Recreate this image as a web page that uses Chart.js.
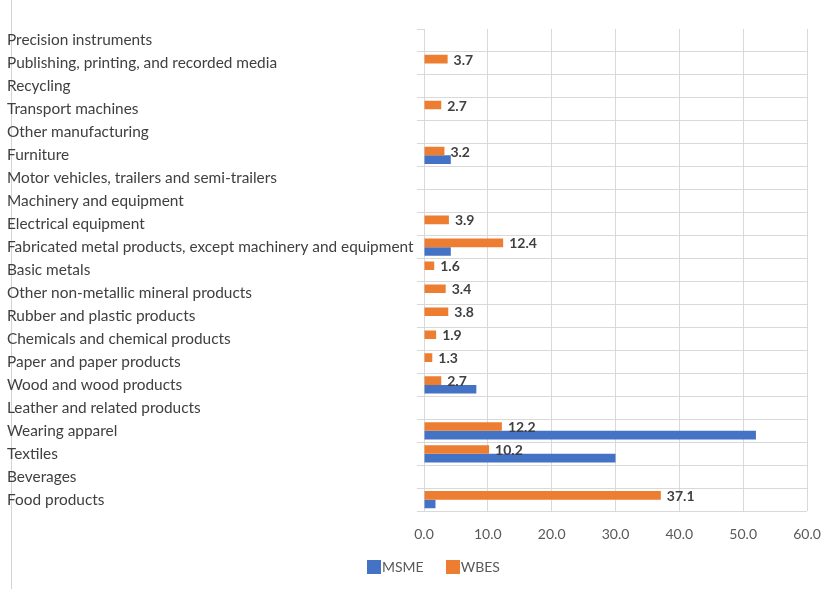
<!DOCTYPE html>
<html>
<head>
<meta charset="utf-8">
<script src="https://cdn.jsdelivr.net/npm/chart.js@4/dist/chart.umd.min.js"></script>
<style>
  html, body { margin: 0; padding: 0; background: #ffffff; }
  #wrap { position: relative; width: 831px; height: 589px; }
  #legend {
    position: absolute; left: 367px; top: 558px;
    display: flex; align-items: center;
    font-family: Lato, "Open Sans", sans-serif; font-size: 14px; color: #595959;
  }
  #legend .item { display: flex; align-items: center; margin-right: 22px; }
  #legend .swatch { width: 14px; height: 14px; margin-right: 1px; }
</style>
</head>
<body>
<div id="wrap">
  <canvas id="chart" width="831" height="589"></canvas>
  <div id="legend"></div>
</div>
<script>
// Manufacturing sectors, listed top to bottom
const categories = [
  'Precision instruments',
  'Publishing, printing, and recorded media',
  'Recycling',
  'Transport machines',
  'Other manufacturing',
  'Furniture',
  'Motor vehicles, trailers and semi-trailers',
  'Machinery and equipment',
  'Electrical equipment',
  'Fabricated metal products, except machinery and equipment',
  'Basic metals',
  'Other non-metallic mineral products',
  'Rubber and plastic products',
  'Chemicals and chemical products',
  'Paper and paper products',
  'Wood and wood products',
  'Leather and related products',
  'Wearing apparel',
  'Textiles',
  'Beverages',
  'Food products'
];

// Share by sector (%), null where a survey has no firms in the sector
const msmeValues = [
  null, null, null, null, null, 4.2, null, null, null, 4.2,
  null, null, null, null, null, 8.2, null, 52.0, 30.0, null, 1.8
];
const wbesValues = [
  null, 3.7, null, 2.7, null, 3.2, null, null, 3.9, 12.4,
  1.6, 3.4, 3.8, 1.9, 1.3, 2.7, null, 12.2, 10.2, null, 37.1
];

const xTicks = [0, 10, 20, 30, 40, 50, 60];

const seriesNames = ['MSME', 'WBES'];
const seriesColors = ['#4472C4', '#ED7D31'];

const FONT = 'Lato, "Open Sans", sans-serif';
const GRID = '#d9d9d9';

// Thin frame line down the left edge of the figure
const frameLine = {
  id: 'frameLine',
  beforeDraw(chart) {
    const ctx = chart.ctx;
    ctx.save();
    ctx.strokeStyle = '#d4d4d4';
    ctx.lineWidth = 1;
    ctx.beginPath();
    ctx.moveTo(11.5, 0);
    ctx.lineTo(11.5, chart.height);
    ctx.stroke();
    ctx.restore();
  }
};

// Value labels at the end of the WBES bars
const barValueLabels = {
  id: 'barValueLabels',
  afterDatasetsDraw(chart) {
    const ctx = chart.ctx;
    chart.data.datasets.forEach((ds, di) => {
      if (!ds.showValues) return;
      const meta = chart.getDatasetMeta(di);
      meta.data.forEach((bar, i) => {
        const v = ds.data[i];
        if (v === null || v === undefined) return;
        ctx.save();
        ctx.font = 'bold 14px ' + FONT;
        ctx.fillStyle = '#404040';
        ctx.textAlign = 'left';
        ctx.textBaseline = 'middle';
        ctx.fillText(v.toFixed(1), bar.x + 6, bar.y + 1);
        ctx.restore();
      });
    });
  }
};

const nCats = categories.length;

new Chart(document.getElementById('chart'), {
  type: 'bar',
  data: {
    labels: categories,
    datasets: [
      {
        label: seriesNames[1],
        data: wbesValues,
        backgroundColor: seriesColors[1],
        categoryPercentage: 0.75,
        barPercentage: 1.0,
        showValues: true
      },
      {
        label: seriesNames[0],
        data: msmeValues,
        backgroundColor: seriesColors[0],
        categoryPercentage: 0.75,
        barPercentage: 1.0
      }
    ]
  },
  options: {
    indexAxis: 'y',
    responsive: false,
    animation: false,
    layout: { padding: { left: 7, right: 24, top: 29, bottom: 31 } },
    scales: {
      x: {
        min: 0,
        max: 60,
        afterBuildTicks(scale) { scale.ticks = xTicks.map(v => ({ value: v })); },
        afterFit(scale) { scale.paddingLeft = 0; scale.paddingRight = 0; },
        grid: { color: GRID, drawTicks: false },
        border: { display: false },
        ticks: {
          padding: 15,
          color: '#595959',
          font: { family: FONT, size: 14 },
          callback: v => Number(v).toFixed(1)
        }
      },
      y: {
        afterFit(scale) { scale.width = 417; },
        grid: {
          offset: true,
          tickLength: 7,
          tickColor: GRID,
          color: c => (c.index === 0 || c.index === nCats) ? 'rgba(0,0,0,0)' : GRID
        },
        border: { display: false },
        ticks: {
          crossAlign: 'far',
          autoSkip: false,
          padding: 4,
          color: '#404040',
          font: { family: FONT, size: 15.4 }
        }
      }
    },
    plugins: {
      legend: { display: false },
      tooltip: { enabled: false }
    }
  },
  plugins: [frameLine, barValueLabels]
});

// Legend below the axis, series in their original order
const legendEl = document.getElementById('legend');
seriesNames.forEach((name, i) => {
  const item = document.createElement('div');
  item.className = 'item';
  const sw = document.createElement('span');
  sw.className = 'swatch';
  sw.style.background = seriesColors[i];
  const txt = document.createElement('span');
  txt.textContent = name;
  item.appendChild(sw);
  item.appendChild(txt);
  legendEl.appendChild(item);
});
</script>
</body>
</html>
